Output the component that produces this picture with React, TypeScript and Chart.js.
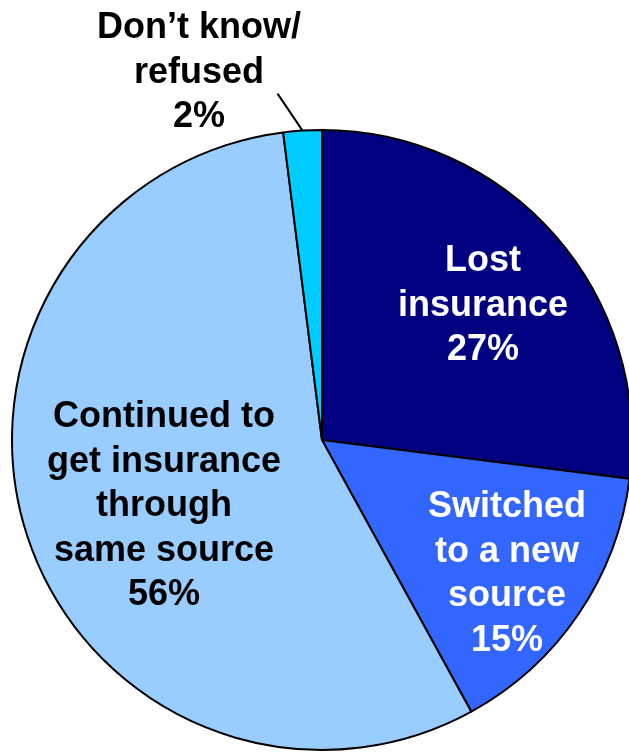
import React, { useEffect, useRef } from "react";
import { Chart, registerables } from "chart.js";

Chart.register(...registerables);

const categories = ["Lost insurance", "Switched to a new source", "Continued to get insurance through same source", "Don\u2019t know/ refused"];
const values = [27, 15, 56, 2];
const colors = ["#000080", "#3366FF", "#99CCFF", "#00CCFF"];
const labelLines = [
  ["Lost", "insurance"],
  ["Switched", "to a new", "source"],
  ["Continued to", "get insurance", "through", "same source"],
  ["Don\u2019t know/", "refused"],
];
const textColors = ["#FFFFFF", "#FFFFFF", "#000000", "#000000"];

// label anchor (first baseline) offsets relative to pie center, in px (layout only)
const labelAnchors = [
  { dx: 161, dy: -169 },
  { dx: 185, dy: 77 },
  { dx: -158, dy: -13 },
  { dx: -123, dy: -402 },
];
const lineGap = 44.5;

const labelPlugin = {
  id: "sliceLabels",
  afterDatasetsDraw(chart: any) {
    const ctx = chart.ctx;
    const meta = chart.getDatasetMeta(0);
    const arc0 = meta.data[0];
    const cx = arc0.x;
    const cy = arc0.y;
    ctx.save();
    ctx.font = "bold 36px 'Liberation Sans', Arial, sans-serif";
    ctx.textAlign = "center";
    ctx.textBaseline = "alphabetic";
    values.forEach((v, i) => {
      const lines = [...labelLines[i], v + "%"];
      const a = labelAnchors[i];
      ctx.fillStyle = textColors[i];
      lines.forEach((t, j) => {
        ctx.fillText(t, cx + a.dx, cy + a.dy + j * lineGap);
      });
    });
    // leader line for small slice
    const small = meta.data[3];
    const mid = (small.startAngle + small.endAngle) / 2;
    const r = small.outerRadius;
    const px = cx + Math.cos(mid) * r;
    const py = cy + Math.sin(mid) * r;
    ctx.strokeStyle = "#000";
    ctx.lineWidth = 2;
    ctx.beginPath();
    ctx.moveTo(px, py);
    ctx.lineTo(px - 25, py - 37);
    ctx.stroke();
    ctx.restore();
  },
};

export default function App() {
  const ref = useRef<HTMLCanvasElement>(null);
  useEffect(() => {
    document.body.style.margin = "0";
    document.body.style.overflow = "hidden";
    const chart = new Chart(ref.current!, {
      type: "pie",
      data: {
        labels: categories,
        datasets: [
          {
            data: values,
            backgroundColor: colors,
            borderColor: "#000000",
            borderWidth: 2,
          },
        ],
      },
      options: {
        responsive: false,
        animation: false,
        radius: 310,
        layout: { padding: { left: 12, right: 8, top: 130, bottom: 6 } },
        plugins: {
          legend: { display: false },
          tooltip: { enabled: false },
        },
      } as any,
      plugins: [labelPlugin],
    });
    return () => chart.destroy();
  }, []);
  return (
    <div style={{ position: "absolute", left: 0, top: 0, width: 629, height: 756, overflow: "hidden", background: "#fff" }}>
      <canvas ref={ref} width={640} height={756} style={{ width: 640, height: 756, display: "block" }} />
    </div>
  );
}
